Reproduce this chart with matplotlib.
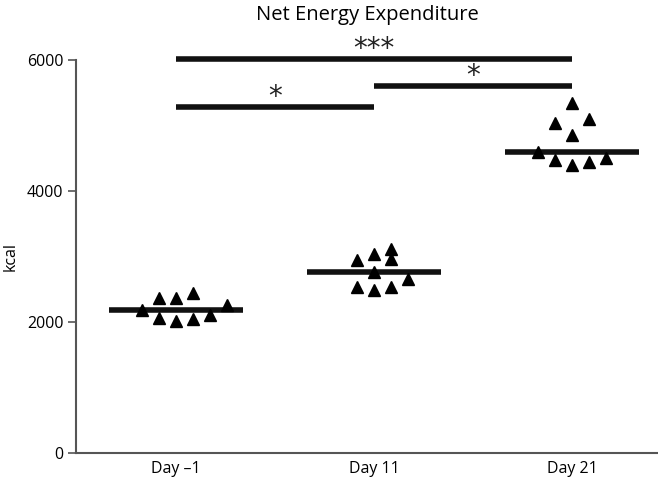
import matplotlib.pyplot as plt
import numpy as np

plt.rcParams['font.family'] = ['Open Sans', 'DejaVu Sans']

# data
groups = ['Day \u20131', 'Day 11', 'Day 21']
day_m1 = [2180, 2370, 2060, 2360, 2020, 2440, 2050, 2100, 2260]
day_11 = [2950, 2530, 3040, 2760, 2490, 3110, 2960, 2540, 2650]
day_21 = [4600, 5040, 4470, 5340, 4860, 4400, 5100, 4440, 4500]
# column of each point in the dot plot (for spreading them sideways)
cols_m1 = [-2, -1, -1, 0, 0, 1, 1, 2, 3]
cols_11 = [-1, -1, 0, 0, 0, 1, 1, 1, 2]
cols_21 = [-2, -1, -1, 0, 0, 0, 1, 1, 2]
# significance brackets: (from group, to group, height, label)
sig_from = [0, 0, 1]
sig_to = [2, 1, 2]
sig_y = [6010, 5280, 5600]
sig_text = ['***', '*', '*']

fig = plt.figure(figsize=(6.58, 4.83), dpi=100)
ax = fig.add_axes([0.1155, 0.062, 0.8845, 0.8137])

all_vals = [day_m1, day_11, day_21]
all_cols = [cols_m1, cols_11, cols_21]
step = 0.086
for i, (vals, cols) in enumerate(zip(all_vals, all_cols)):
    x = i + np.array(cols) * step
    ax.plot([i - 0.34, i + 0.34], [np.median(vals)] * 2, color='#111111', lw=4,
            solid_capstyle='butt', zorder=2)
    ax.plot(x, vals, linestyle='', marker='^', color='black', markersize=8.5, zorder=3)

for a, b, y, t in zip(sig_from, sig_to, sig_y, sig_text):
    ax.plot([a, b], [y, y], color='#111111', lw=4, solid_capstyle='butt', clip_on=False)
    ax.text((a + b) / 2, y - 60, t, ha='center', va='bottom', fontsize=20,
            family='DejaVu Sans', color='#222222', clip_on=False)

ax.set_xlim(-0.506, 2.435)
ax.set_ylim(0, 6000)
ax.set_yticks([0, 2000, 4000, 6000])
ax.set_xticks([0, 1, 2])
ax.set_xticklabels(groups)
ax.tick_params(axis='x', length=0, labelsize=11.5, pad=6)
ax.tick_params(axis='y', length=6, width=1.2, color='#555555', labelsize=11.5, pad=3)
for s in ['top', 'right']:
    ax.spines[s].set_visible(False)
for s in ['left', 'bottom']:
    ax.spines[s].set_color('#555555')
    ax.spines[s].set_linewidth(1.5)
ax.set_ylabel('kcal', fontsize=11.5, labelpad=6)
ax.set_title('Net Energy Expenditure', fontsize=14.5, pad=29)

plt.savefig('out.png', dpi=100)
